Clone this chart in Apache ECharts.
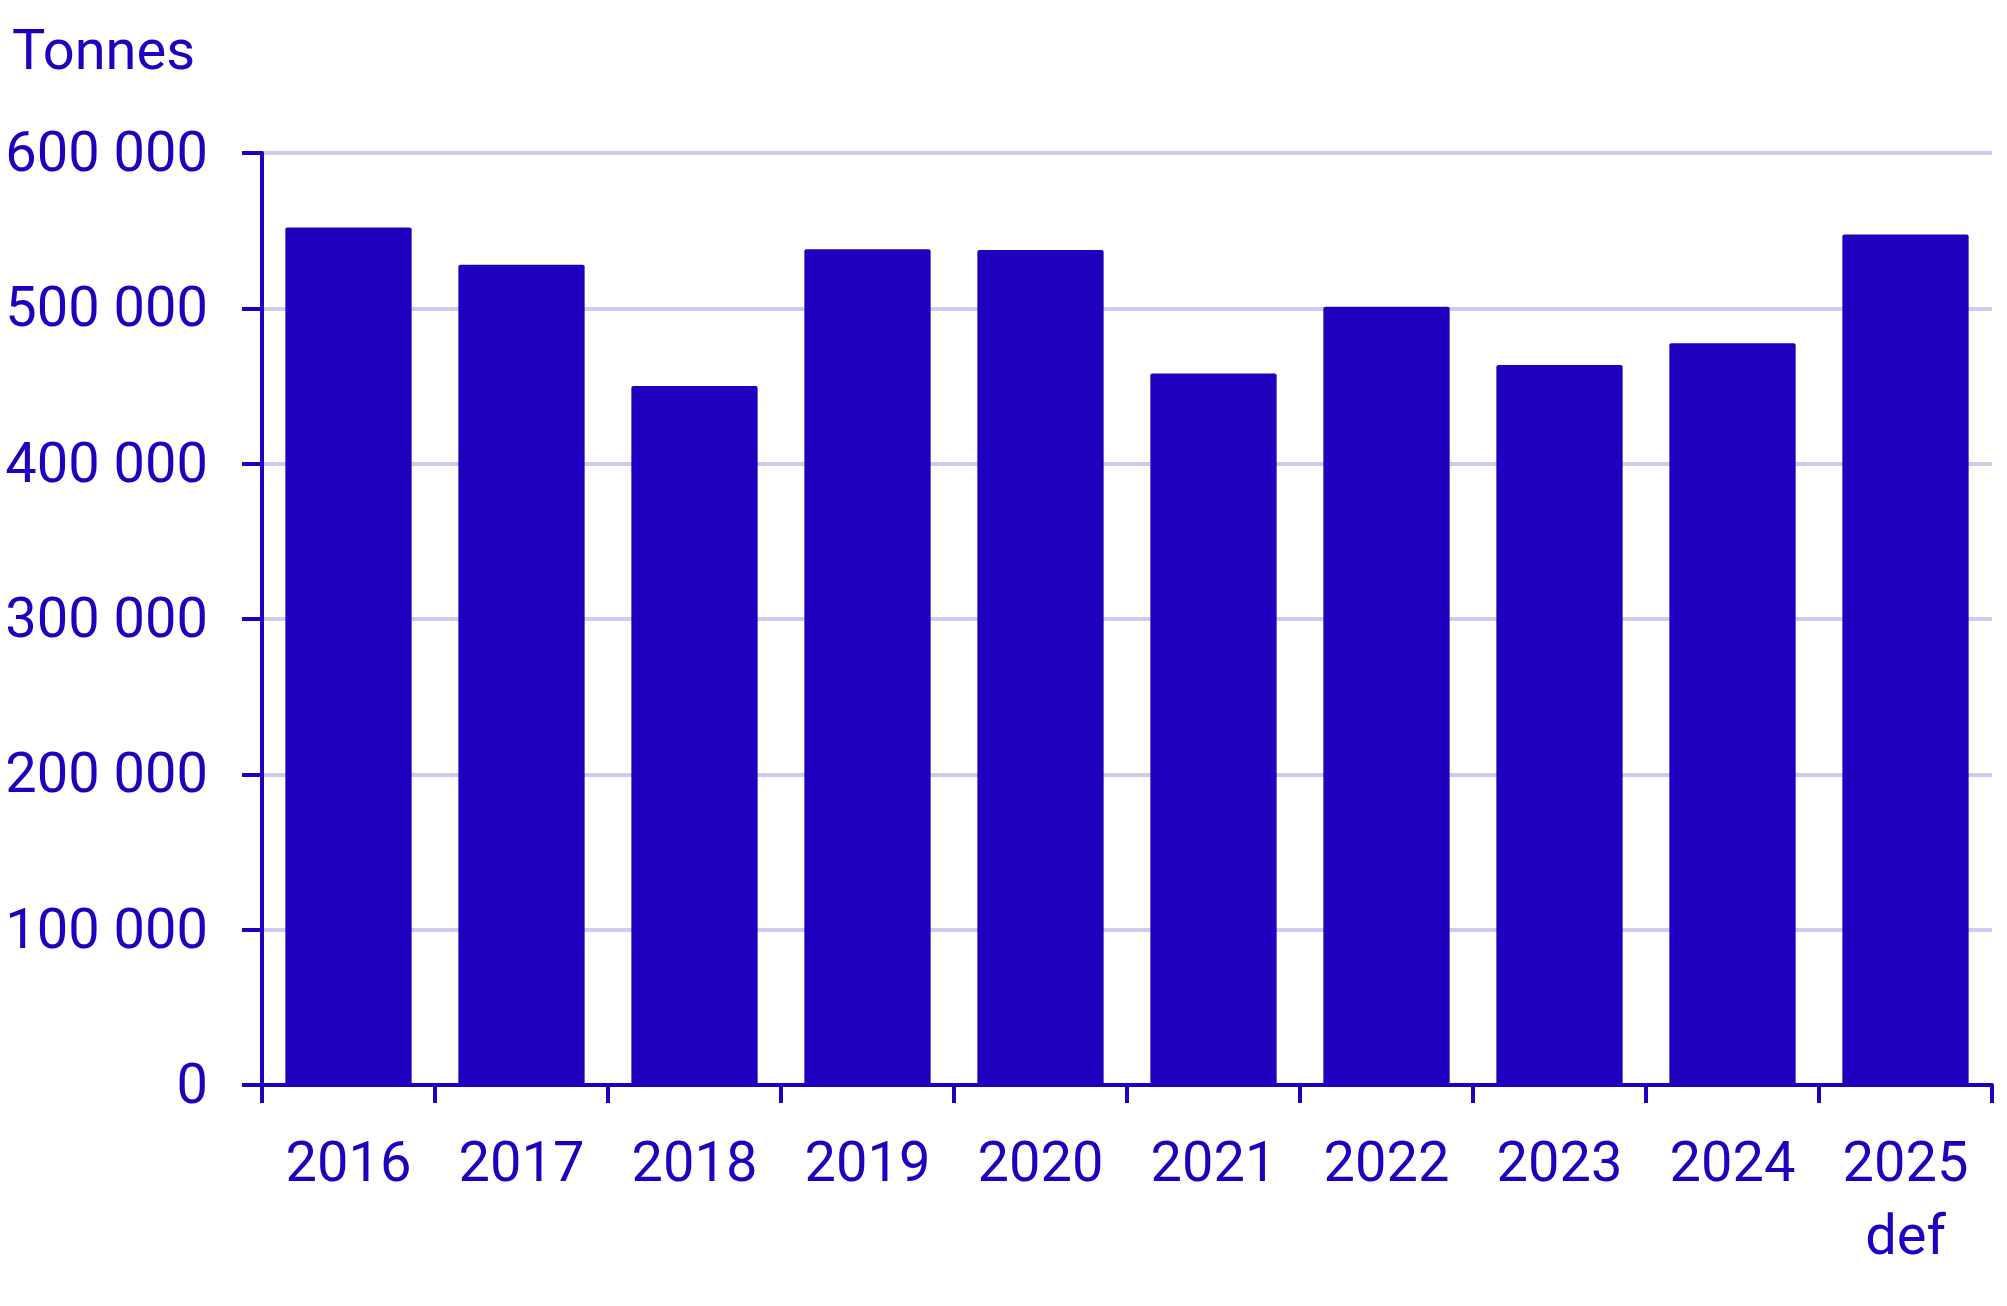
<!DOCTYPE html>
<html>
<head>
<meta charset="utf-8">
<script src="https://cdn.jsdelivr.net/npm/echarts@6/dist/echarts.min.js"></script>
<style>
html,body{margin:0;padding:0;background:#fff;}
#chart{width:2007px;height:1306px;}
</style>
</head>
<body>
<div id="chart"></div>
<script>
const categories = ['2016', '2017', '2018', '2019', '2020', '2021', '2022', '2023', '2024', '2025\ndef'];
const tonnes = [552000, 528000, 450000, 538000, 537500, 458000, 501000, 463500, 477500, 547500];
const yTicks = [0, 100000, 200000, 300000, 400000, 500000, 600000];
const unitLabel = 'Tonnes';

const MAIN = '#1E00BE';
const GRIDC = '#D0CAF0';
const FONT = 'Roboto';

function fmt(v) {
  return '{v|' + String(v).replace(/\B(?=(\d{3})+(?!\d))/g, ' ') + '}';
}

const chart = echarts.init(document.getElementById('chart'), null, {renderer: 'canvas'});
chart.setOption({
  backgroundColor: '#ffffff',
  animation: false,
  title: {
    text: unitLabel,
    left: 7,
    top: 22,
    textStyle: {color: MAIN, fontFamily: FONT, fontSize: 56, fontWeight: 'normal'}
  },
  grid: {left: 262, right: 15, top: 153, bottom: 221, containLabel: false},
  xAxis: {
    type: 'category',
    data: categories,
    axisLine: {show: true, lineStyle: {color: MAIN, width: 4}},
    axisTick: {show: true, length: 18, lineStyle: {color: MAIN, width: 4}, alignWithLabel: false},
    axisLabel: {color: MAIN, fontFamily: FONT, fontSize: 56, lineHeight: 73, margin: 45, interval: 0},
    splitLine: {show: false}
  },
  yAxis: {
    type: 'value',
    min: yTicks[0],
    max: yTicks[yTicks.length - 1],
    interval: 100000,
    axisLine: {show: true, lineStyle: {color: MAIN, width: 4}},
    axisTick: {show: true, length: 20, lineStyle: {color: MAIN, width: 4}},
    axisLabel: {
      color: MAIN, fontFamily: FONT, fontSize: 56, margin: 54, formatter: fmt,
      rich: {v: {color: MAIN, fontFamily: FONT, fontSize: 56, padding: [8, 0, 0, 0]}}
    },
    splitLine: {show: true, lineStyle: {color: GRIDC, width: 4}}
  },
  series: [{
    type: 'bar',
    data: tonnes,
    barWidth: '73%',
    itemStyle: {color: MAIN, borderRadius: [2, 2, 0, 0]},
    z: 3
  }]
});
</script>
</body>
</html>
